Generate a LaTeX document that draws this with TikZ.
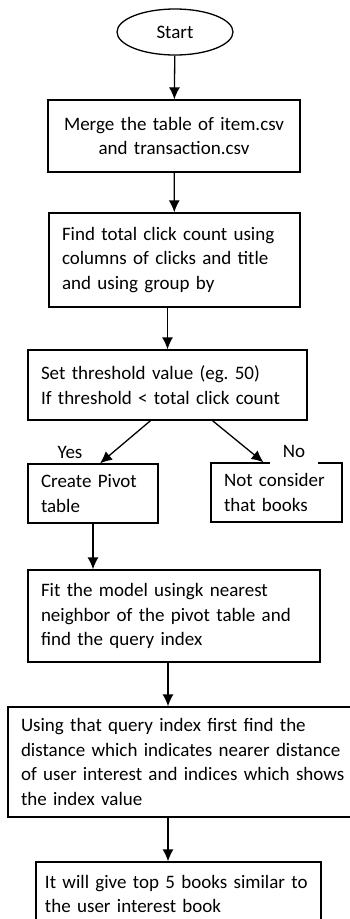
\documentclass[tikz,border=0pt]{standalone}
\usepackage{fontspec}
\setmainfont{Carlito}
\usetikzlibrary{shapes.geometric,arrows.meta}
\frenchspacing

\begin{document}
\begin{tikzpicture}[x=1pt, y=-1pt,
    >={Latex[length=12pt,width=11pt]},
    every node/.style={font=\fontsize{19}{24.5}\selectfont},
    startstop/.style={ellipse, draw, line width=1.3pt, minimum width=116pt, minimum height=46pt, inner sep=0pt},
    process/.style={rectangle, draw, line width=1.3pt, inner xsep=13pt, inner ysep=0pt, align=left},
    flow/.style={->, line width=1.3pt}]
    % Page size
    \useasboundingbox (0,0) rectangle (350,919);

    % Draw the start
    \node[startstop] (start) at (175,32) {Start};

    % Draw the steps
    \node[process, text width=226pt, minimum height=72pt, align=center] (merge) at (174,136)
        {Merge the table of item.csv\\and transaction.csv};
    \node[process, text width=225pt, minimum height=94pt] (count) at (174.5,260)
        {Find total click count using\\columns of clicks and title\\and using group by};
    \node[process, text width=253pt, minimum height=70pt] (threshold) at (167.5,385)
        {Set threshold value (eg. 50)\\If threshold < total click count};
    \node[process, text width=104pt, minimum height=59pt] (pivot) at (93,493.5)
        {Create Pivot\\table};
    \node[process, text width=105pt, minimum height=59pt] (skip) at (276.5,492.5)
        {Not consider\\that books};
    \node[process, text width=266pt, minimum height=92pt] (fit) at (174,616)
        {Fit the model usingk nearest\\neighbor of the pivot table and\\find the query index};
    \node[process, text width=328pt, minimum height=110pt] (query) at (185,762)
        {Using that query index first find the\\distance which indicates nearer distance\\of user interest and indices which shows\\the index value};
    \node[process, inner xsep=9pt, text width=267pt, minimum height=64pt] (result) at (178.5,894)
        {It will give top 5 books similar to\\the user interest book};

    % Draw the arrows
    \draw[flow] (start) -- (merge);
    \draw[flow] (merge) -- (count);
    \draw[flow] (count.south -| threshold.north) -- (threshold.north);
    \draw[flow] ([xshift=-17pt]threshold.south) -- ([xshift=7pt]pivot.north);
    \draw[flow] ([xshift=45pt]threshold.south) -- ([xshift=-13pt]skip.north);
    \draw[flow] (pivot) -- (pivot |- fit.north);
    \draw[flow] ([xshift=-6pt]fit.south) -- ([xshift=-6pt]fit.south |- query.north);
    \draw[flow] ([xshift=-6pt]fit.south |- query.south) -- ([xshift=-6pt]fit.south |- result.north);

    % Draw the branch labels
    \node (yes) at (70,452) {Yes};
    \node[fill=white, minimum width=48pt, inner ysep=8pt] (no) at (294,451) {No};
\end{tikzpicture}
\end{document}
